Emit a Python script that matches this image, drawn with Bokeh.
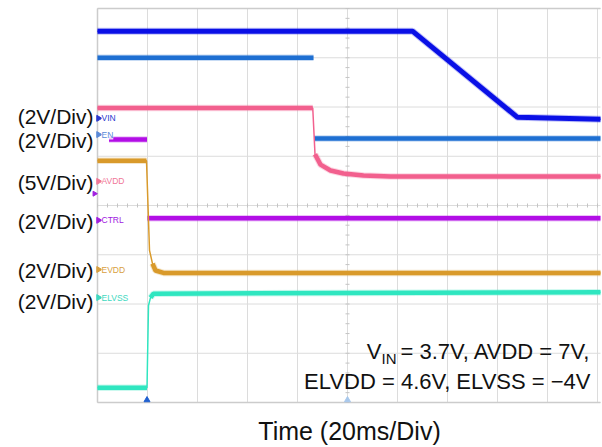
import numpy as np
from bokeh.plotting import figure
from bokeh.models import Label, Range1d
from bokeh.embed import file_html
from bokeh.resources import INLINE

# ---- data (time in ms, level in vertical divisions from the bottom) ----
time_grid_ms = [0, 20, 40, 60, 80, 100, 120, 140, 160, 180, 200]
level_grid_div = [0, 1, 2, 3, 4, 5, 6, 7, 8]

vin_t = [0, 126.0, 168.0, 201.2]
vin_v = [7.54, 7.54, 5.79, 5.75]

en_t = [0, 86.4, 86.6, 201.2]
en_v = [7.0, 7.0, 5.36, 5.36]

avdd_t = [0, 86.1, 87.0, 89.2, 93.2, 98.4, 106.4, 117.2, 201.2]
avdd_v = [5.98, 5.98, 5.04, 4.83, 4.71, 4.65, 4.61, 4.59, 4.59]

ctrl_t = [4.6, 19.8, 20.0, 201.2]
ctrl_v = [5.34, 5.34, 3.74, 3.74]

elvdd_t = [0, 19.6, 20.8, 22.0, 23.2, 26.4, 201.2]
elvdd_v = [4.91, 4.91, 3.09, 2.82, 2.68, 2.63, 2.63]

elvss_t = [0, 19.8, 20.4, 21.2, 22.4, 201.2]
elvss_v = [0.30, 0.30, 1.97, 2.13, 2.21, 2.24]

channel_names = ["VIN", "EN", "AVDD", "CTRL", "EVDD", "ELVSS"]
channel_marker_div = [5.77, 5.44, 4.49, 3.70, 2.70, 2.13]
scale_labels = ["(2V/Div)", "(2V/Div)", "(5V/Div)", "(2V/Div)", "(2V/Div)", "(2V/Div)"]
scale_label_div = [5.811, 5.324, 4.471, 3.679, 2.684, 2.055]

trigger_t = [19.8, 100.0]
trigger_level_div = [4.24]

# ---- layout constants (pixels) ----
W, H = 602, 447
LEFT, TOP, BOTTOM = 97, 8, 402          # plot area edges in the page
X_MAX = 201.2                            # ms visible in the plot area
Y_MAX = 8.0                              # divisions visible
PX_PER_MS = (W - 2 - LEFT) / X_MAX
PX_PER_DIV = (BOTTOM - TOP) / Y_MAX


def xd(px):
    return (px - LEFT) / PX_PER_MS


def yd(py):
    return (BOTTOM - py) / PX_PER_DIV


p = figure(width=W, height=H, output_backend="svg", toolbar_location=None,
           x_axis_type=None, y_axis_type=None,
           x_range=Range1d(xd(0), xd(W)), y_range=Range1d(yd(H), yd(0)),
           min_border=0, min_border_left=0, min_border_right=0,
           min_border_top=0, min_border_bottom=0)
p.outline_line_color = None
p.background_fill_color = "white"
p.border_fill_color = "white"

# grid (drawn only over the plot area)
gx = np.array(time_grid_ms, float)
p.segment(x0=gx, y0=level_grid_div[0], x1=gx, y1=level_grid_div[-1],
          line_color="#dcdcdc", line_width=1)
gy = np.array(level_grid_div, float)
p.segment(x0=time_grid_ms[0], y0=gy, x1=X_MAX, y1=gy,
          line_color="#dcdcdc", line_width=1)
# frame edges slightly stronger
p.segment(x0=[time_grid_ms[0], time_grid_ms[0], time_grid_ms[0]],
          y0=[level_grid_div[0], level_grid_div[-1], level_grid_div[0]],
          x1=[X_MAX, X_MAX, time_grid_ms[0]],
          y1=[level_grid_div[0], level_grid_div[-1], level_grid_div[-1]],
          line_color="#cccccc", line_width=1.5)

# minor ticks on the centre lines
cx = time_grid_ms[len(time_grid_ms) // 2]
cy = level_grid_div[len(level_grid_div) // 2]
mt = np.arange(0, X_MAX, 4.0)
p.segment(x0=mt, y0=cy - 2 / PX_PER_DIV, x1=mt, y1=cy + 2 / PX_PER_DIV,
          line_color="#c4c4c4", line_width=1)
mv = np.arange(0, Y_MAX + 0.01, 0.2)
p.segment(x0=cx - 2 / PX_PER_MS, y0=mv, x1=cx + 2 / PX_PER_MS, y1=mv,
          line_color="#c4c4c4", line_width=1)


def draw(t, v, color, width, edges=True):
    t = np.array(t, float)
    v = np.array(v, float)
    dxp = np.diff(t) * PX_PER_MS
    dyp = np.abs(np.diff(v)) * PX_PER_DIV
    steep = dyp > 3 * np.maximum(dxp, 1e-9)
    if edges:
        p.line(t, v, line_color=color, line_width=1.5)
    xs, ys = [t[0]], [v[0]]
    for i in range(len(t) - 1):
        if steep[i]:
            xs.append(np.nan)
            ys.append(np.nan)
        xs.append(t[i + 1])
        ys.append(v[i + 1])
    p.line(xs, ys, line_color=color, line_width=width + 2, line_alpha=0.25)
    p.line(xs, ys, line_color=color, line_width=width)


draw(vin_t, vin_v, "#0a10e6", 5)
draw(en_t, en_v, "#1e6fd2", 4.5, edges=False)
draw(avdd_t, avdd_v, "#f2608e", 4.5)
draw(ctrl_t, ctrl_v, "#b20ee6", 4.5, edges=False)
draw(elvdd_t, elvdd_v, "#d99a2b", 4.5)
draw(elvss_t, elvss_v, "#2fe6c0", 4.5)

chan_colors = ["#2a3ad0", "#5a8ad8", "#f07898", "#a020e0", "#d8a040", "#40d8c0"]
p.scatter(x=[xd(98)] * len(channel_names), y=channel_marker_div, marker="triangle",
          size=6, angle=-np.pi / 2, fill_color=chan_colors, line_color=chan_colors)
for name, y, c in zip(channel_names, channel_marker_div, chan_colors):
    p.add_layout(Label(x=xd(101), y=y, text=name, text_color=c, text_font="Liberation Sans",
                       text_font_size="8.5px", text_baseline="middle", text_align="left",
                       background_fill_color="white", background_fill_alpha=0.8))

p.scatter(x=[xd(94)] * len(trigger_level_div), y=trigger_level_div, marker="triangle",
          size=5, angle=-np.pi / 2, fill_color="#a020e0", line_color="#a020e0")

p.scatter(x=trigger_t, y=[yd(399.5)] * len(trigger_t), marker="triangle", size=6,
          fill_color=["#2060d0", "#a8c8ec"], line_color=["#2060d0", "#a8c8ec"])

for txt, y in zip(scale_labels, scale_label_div):
    p.add_layout(Label(x=xd(93), y=y, text=txt, text_color="#111111",
                       text_font="Liberation Sans", text_font_size="21px",
                       text_align="right", text_baseline="middle"))

# annotation
p.add_layout(Label(x=xd(590), y=yd(351), text="= 3.7V, AVDD = 7V,",
                   text_color="#111111", text_font="Liberation Sans", text_font_size="22px",
                   text_align="right", text_baseline="middle"))
p.add_layout(Label(x=xd(396), y=yd(358), text="IN",
                   text_color="#111111", text_font="Liberation Sans", text_font_size="15px",
                   text_align="right", text_baseline="middle"))
p.add_layout(Label(x=xd(381), y=yd(351), text="V",
                   text_color="#111111", text_font="Liberation Sans", text_font_size="22px",
                   text_align="right", text_baseline="middle"))
p.add_layout(Label(x=xd(590), y=yd(381), text="ELVDD = 4.6V, ELVSS = \u22124V",
                   text_color="#111111", text_font="Liberation Sans", text_font_size="22px",
                   text_align="right", text_baseline="middle"))

p.add_layout(Label(x=xd(349), y=yd(430), text="Time (20ms/Div)",
                   text_color="#111111", text_font="Liberation Sans", text_font_size="25px",
                   text_align="center", text_baseline="middle"))

open("out.html", "w").write(file_html(p, INLINE))
